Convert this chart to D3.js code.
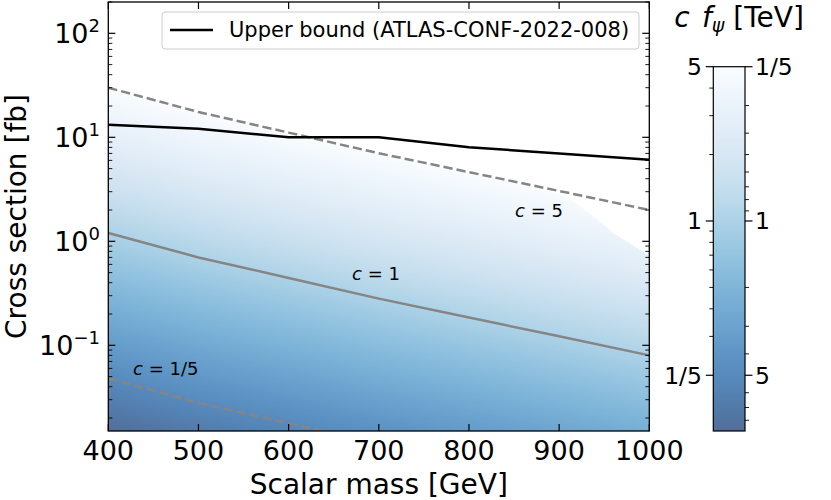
<!DOCTYPE html>
<html><head><meta charset="utf-8">
<script src="https://cdn.jsdelivr.net/npm/d3@7"></script>
<style>body{margin:0;background:#fff}svg{display:block;font-family:"DejaVu Sans",sans-serif}</style>
</head><body><svg id="chart" width="831" height="500"></svg>
<script>
// ---- data ----
const masses = [400, 500, 600, 700, 800, 900, 1000];
const upperBound = [13.2, 12.1, 10.0, 10.0, 8.03, 6.98, 6.08];
const sigmaC1 = [1.20, 0.70, 0.444, 0.281, 0.185, 0.122, 0.080];
const couplings = [5, 1, 0.2];
const couplingLabels = ["5", "1", "1/5"];
const couplingDashed = [true, false, true];
const boundaryMass = [400, 860, 910, 960, 1000];
const boundaryC = [5, 5, 4.75, 3.56, 3.0];
const xTicks = [400, 500, 600, 700, 800, 900, 1000];
const yTickExp = [2, 1, 0, -1];
const yTickLabels = ["2", "1", "0", "\u22121"];
const cbLeftTicks = [5, 1, 0.2];
const cbLeftLabels = ["5", "1", "1/5"];
const cbRightTicks = [0.2, 1, 5];
const cbRightLabels = ["1/5", "1", "5"];
const cRange = [0.1118, 5];
const legendLabel = "Upper bound (ATLAS-CONF-2022-008)";

// ---- layout ----
const L = 108.3, R = 649.3, T = 2, B = 431;
const CBL = 713.3, CBR = 745, CBT = 66.7, CBB = 431;
const svg = d3.select("#chart");
const x = d3.scaleLinear().domain([400, 1000]).range([L, R]);
const y = d3.scaleLog().domain([0.015, 200]).range([B, T]);
const logS1 = d3.scaleLinear().domain(masses).range(sigmaC1.map(Math.log10));
const sigma1 = m => Math.pow(10, logS1(m));
const cBound = d3.scaleLinear().domain(boundaryMass).range(boundaryC).clamp(true);
const t01 = d3.scaleLog().domain(cRange).range([0, 1]).clamp(true);
function cmap(c) {
  const col = d3.rgb(d3.interpolateBlues(1 - t01(c)));
  return d3.rgb(0.7 * col.r + 76.5, 0.7 * col.g + 76.5, 0.7 * col.b + 76.5);
}

// ---- heat field ----
const W = Math.round(R - L), H = Math.round(B - T);
const cv = document.createElement("canvas");
cv.width = W; cv.height = H;
const ctx = cv.getContext("2d");
const img = ctx.createImageData(W, H);
for (let px = 0; px < W; px++) {
  const m = x.invert(L + px + 0.5);
  const s1 = sigma1(m), cb = cBound(m);
  for (let py = 0; py < H; py++) {
    const s = y.invert(T + py + 0.5);
    const c = Math.sqrt(s / s1);
    if (c > cb) continue;
    const col = cmap(Math.min(c, 5));
    const i = 4 * (py * W + px);
    img.data[i] = col.r; img.data[i + 1] = col.g; img.data[i + 2] = col.b; img.data[i + 3] = 255;
  }
}
ctx.putImageData(img, 0, 0);
svg.append("image").attr("x", L).attr("y", T).attr("width", W).attr("height", H)
  .attr("preserveAspectRatio", "none").attr("href", cv.toDataURL());

// clip
svg.append("clipPath").attr("id", "clip").append("rect")
  .attr("x", L).attr("y", T).attr("width", R - L).attr("height", B - T);
const gLines = svg.append("g").attr("clip-path", "url(#clip)");
const line = d3.line().x(d => x(d[0])).y(d => y(d[1]));

couplings.forEach((c, k) => {
  gLines.append("path").datum(masses.map((m, i) => [m, sigmaC1[i] * c * c]))
    .attr("d", line).attr("fill", "none").attr("stroke", "#858585")
    .attr("stroke-width", 2.5).attr("stroke-dasharray", couplingDashed[k] ? "9.25,4" : null);
});
gLines.append("path").datum(masses.map((m, i) => [m, upperBound[i]]))
  .attr("d", line).attr("fill", "none").attr("stroke", "#000").attr("stroke-width", 2.5);

// coupling labels
const labelPos = [[515, 217], [352, 280], [133, 375]];
couplings.forEach((c, k) => {
  const t = svg.append("text").attr("x", labelPos[k][0]).attr("y", labelPos[k][1])
    .attr("font-size", 18).attr("fill", "#000");
  t.append("tspan").attr("font-style", "italic").text("c");
  t.append("tspan").text(" = " + couplingLabels[k]);
});

// ---- axes ----
const ax = svg.append("g").attr("stroke", "#000");
xTicks.forEach(v => {
  ax.append("line").attr("x1", x(v)).attr("x2", x(v)).attr("y1", B).attr("y2", B - 7).attr("stroke-width", 1.2);
  ax.append("line").attr("x1", x(v)).attr("x2", x(v)).attr("y1", T).attr("y2", T + 7).attr("stroke-width", 1.2);
  svg.append("text").attr("x", x(v)).attr("y", 460).attr("text-anchor", "middle")
    .attr("font-size", 27).text(v);
});
for (let e = -2; e <= 2; e++) {
  for (let k = 1; k <= 9; k++) {
    const v = k * Math.pow(10, e);
    if (v < 0.015 || v > 200) continue;
    const len = k === 1 ? 7 : 4;
    ax.append("line").attr("x1", L).attr("x2", L + len).attr("y1", y(v)).attr("y2", y(v)).attr("stroke-width", k === 1 ? 1.2 : 0.9);
    ax.append("line").attr("x1", R).attr("x2", R - len).attr("y1", y(v)).attr("y2", y(v)).attr("stroke-width", k === 1 ? 1.2 : 0.9);
  }
}
yTickExp.forEach((e, i) => {
  const t = svg.append("text").attr("x", 100).attr("y", y(Math.pow(10, e)) + 10)
    .attr("text-anchor", "end").attr("font-size", 27);
  t.append("tspan").text("10");
  t.append("tspan").attr("font-size", 18).attr("dy", -11).text(yTickLabels[i]);
});
svg.append("rect").attr("x", L).attr("y", T).attr("width", R - L).attr("height", B - T)
  .attr("fill", "none").attr("stroke", "#000").attr("stroke-width", 1.3);

svg.append("text").attr("x", (L + R) / 2).attr("y", 494).attr("text-anchor", "middle")
  .attr("font-size", 28).text("Scalar mass [GeV]");
svg.append("text").attr("transform", `translate(26,${(T + B) / 2}) rotate(-90)`)
  .attr("text-anchor", "middle").attr("font-size", 28).text("Cross section [fb]");

// ---- legend ----
svg.append("rect").attr("x", 162).attr("y", 12).attr("width", 477).attr("height", 37).attr("rx", 3)
  .attr("fill", "#fff").attr("fill-opacity", 0.8).attr("stroke", "#cccccc").attr("stroke-width", 1);
svg.append("line").attr("x1", 170).attr("x2", 213).attr("y1", 30).attr("y2", 30)
  .attr("stroke", "#000").attr("stroke-width", 2.5);
svg.append("text").attr("x", 229).attr("y", 37).attr("font-size", 21).text(legendLabel);

// ---- colorbar ----
const cy = d3.scaleLog().domain(cRange).range([CBB, CBT]);
const grad = svg.append("defs").append("linearGradient").attr("id", "cbgrad")
  .attr("x1", 0).attr("x2", 0).attr("y1", 1).attr("y2", 0);
d3.range(0, 1.0001, 0.02).forEach(f => {
  const c = cy.invert(CBB - f * (CBB - CBT));
  grad.append("stop").attr("offset", f).attr("stop-color", cmap(c).formatHex());
});
svg.append("rect").attr("x", CBL).attr("y", CBT).attr("width", CBR - CBL).attr("height", CBB - CBT)
  .attr("fill", "url(#cbgrad)").attr("stroke", "#000").attr("stroke-width", 1.2);
const cb = svg.append("g").attr("stroke", "#000");
// left: c
[0.2, 0.3, 0.4, 0.5, 0.6, 0.7, 0.8, 0.9, 1, 2, 3, 4, 5].forEach(v => {
  const major = cbLeftTicks.includes(v);
  cb.append("line").attr("x1", CBL).attr("x2", CBL - (major ? 7.5 : 4)).attr("y1", cy(v)).attr("y2", cy(v))
    .attr("stroke-width", major ? 1.2 : 0.9);
});
cbLeftTicks.forEach((v, i) => svg.append("text").attr("x", 702).attr("y", cy(v) + 8.5)
  .attr("text-anchor", "end").attr("font-size", 23.5).text(cbLeftLabels[i]));
// right: f = 1/c
[0.2, 0.3, 0.4, 0.5, 0.6, 0.7, 0.8, 0.9, 1, 2, 3, 4, 5, 6, 7, 8, 9].forEach(f => {
  const major = cbRightTicks.includes(f);
  const yy = cy(1 / f);
  if (yy > CBB + 0.5 || yy < CBT - 0.5) return;
  cb.append("line").attr("x1", CBR).attr("x2", CBR + (major ? 7.5 : 4)).attr("y1", yy).attr("y2", yy)
    .attr("stroke-width", major ? 1.2 : 0.9);
});
cbRightTicks.forEach((f, i) => svg.append("text").attr("x", 755).attr("y", cy(1 / f) + 8.5)
  .attr("font-size", 23.5).text(cbRightLabels[i]));
// headers
svg.append("text").attr("x", 682).attr("y", 27).attr("text-anchor", "middle")
  .attr("font-size", 28).attr("font-style", "italic").text("c");
const hf = svg.append("text").attr("x", 702).attr("y", 27).attr("font-size", 28);
hf.append("tspan").attr("font-style", "italic").text("f");
hf.append("tspan").attr("font-style", "italic").attr("font-size", 19).attr("dy", 5).text("\u03c8");
hf.append("tspan").attr("dy", -5).text(" [TeV]");
</script></body></html>
